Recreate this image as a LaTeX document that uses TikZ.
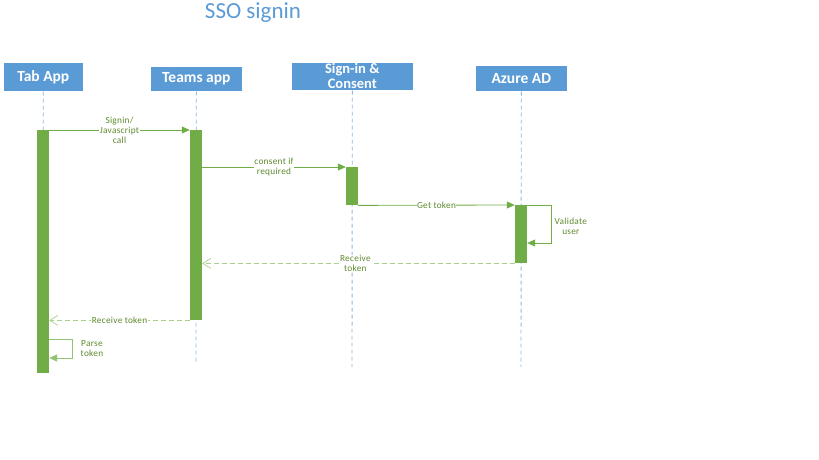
\documentclass[tikz,border=0pt]{standalone}
\usepackage{fontspec}
\setmainfont{Carlito}
\newfontfamily\lblfont[LetterSpace=3]{Carlito}
\usetikzlibrary{arrows.meta}
\definecolor{hdrblue}{HTML}{5B9BD5}
\definecolor{lifeblue}{HTML}{8FB8E0}
\definecolor{barg}{HTML}{70AD47}
\definecolor{lineg}{HTML}{70AD47}
\definecolor{dashg}{HTML}{A9D18E}
\definecolor{txtg}{HTML}{5E8A2E}
\begin{document}
\begin{tikzpicture}[x=1pt,y=-1pt,
  hdr/.style={draw=white,line width=0.6pt,fill=hdrblue,text=white,font=\bfseries\fontsize{15.5}{16}\selectfont,align=center,inner sep=0pt,anchor=north west},
  lifeline/.style={draw=lifeblue,line width=0.9pt,dash pattern=on 4pt off 3pt},
  actbar/.style={fill=barg,draw=none},
  msg/.style={draw=lineg,line width=0.8pt,-{Triangle[length=8pt,width=7pt]}},
  ret/.style={draw=dashg,line width=0.9pt,dash pattern=on 5pt off 3pt,-{Straight Barb[length=8pt,width=10pt,line width=0.7pt]}},
  lbl/.style={fill=white,text=txtg,font=\lblfont\fontsize{9.3}{10}\selectfont,align=center,inner sep=0.5pt},
  slbl/.style={text=txtg,font=\lblfont\fontsize{9.3}{10}\selectfont,align=center,inner sep=0.5pt}]
\useasboundingbox (0,0) rectangle (819,460);
\node[text=hdrblue,font=\fontsize{23}{26}\selectfont] (title) at (253,13) {SSO signin};
% headers
\node[hdr,minimum width=80pt,minimum height=29pt] (tab) at (3,62) {Tab App};
\node[hdr,minimum width=92pt,minimum height=25pt] (teams) at (150,66) {Teams app};
\node[hdr,minimum width=122pt,minimum height=28pt,font=\bfseries\fontsize{14.5}{15}\selectfont] (sign) at (291,62) {Sign-in \&\\Consent};
\node[hdr,minimum width=92pt,minimum height=26pt] (aad) at (475,65) {Azure AD};
% lifeline ends
\coordinate (tabE) at (43,370);
\coordinate (teamsE) at (196,362);
\coordinate (signE) at (352,367);
\coordinate (aadE) at (521,367);
\draw[lifeline] (tab.south) -- (tabE);
\draw[lifeline] (teams.south) -- (teamsE);
\draw[lifeline] (sign.south) -- (signE);
\draw[lifeline] (aad.south) -- (aadE);
% activation bars
\node[actbar,minimum width=12pt,minimum height=243pt,inner sep=0pt,anchor=north] (tabB) at (43,130) {};
\node[actbar,minimum width=12pt,minimum height=190pt,inner sep=0pt,anchor=north] (teamsB) at (196,130) {};
\node[actbar,minimum width=12pt,minimum height=38pt,inner sep=0pt,anchor=north] (signB) at (352,167) {};
\node[actbar,minimum width=12pt,minimum height=58pt,inner sep=0pt,anchor=north] (aadB) at (521,205) {};
% messages
\draw[msg] (tabB.north east) -- (teamsB.north west) node[lbl,midway] (m1) {Signin/\\Javascript\\call};
\draw[msg] (teamsB.east |- signB.north) -- (signB.north west) node[lbl,pos=0.5] (m2) {consent if\\required};
\draw[msg] (signB.south east) -- (aadB.north west) node[lbl,pos=0.5] (m3) {Get token};
\coordinate (v1) at (551,205);
\coordinate (v2) at (551,243);
\draw[msg] (aadB.north east) -- (v1) -- (v2) -- (aadB.east |- v2);
\node[slbl,anchor=west] (m4) at (554,226) {Validate\\user};
\draw[ret] (aadB.south west) -- (teamsB.east |- aadB.south) node[lbl,pos=0.51] (m5) {Receive\\token};
\draw[ret] (teamsB.south west) -- (tabB.east |- teamsB.south) node[lbl,midway] (m6) {Receive token};
\coordinate (p1) at (72,339);
\coordinate (p2) at (72,358);
\draw[msg,draw=dashg!60!lineg] (tabB.east |- p1) -- (p1) -- (p2) -- (tabB.east |- p2);
\node[slbl,anchor=west] (m7) at (80,349) {Parse\\token};
\end{tikzpicture}
\end{document}
